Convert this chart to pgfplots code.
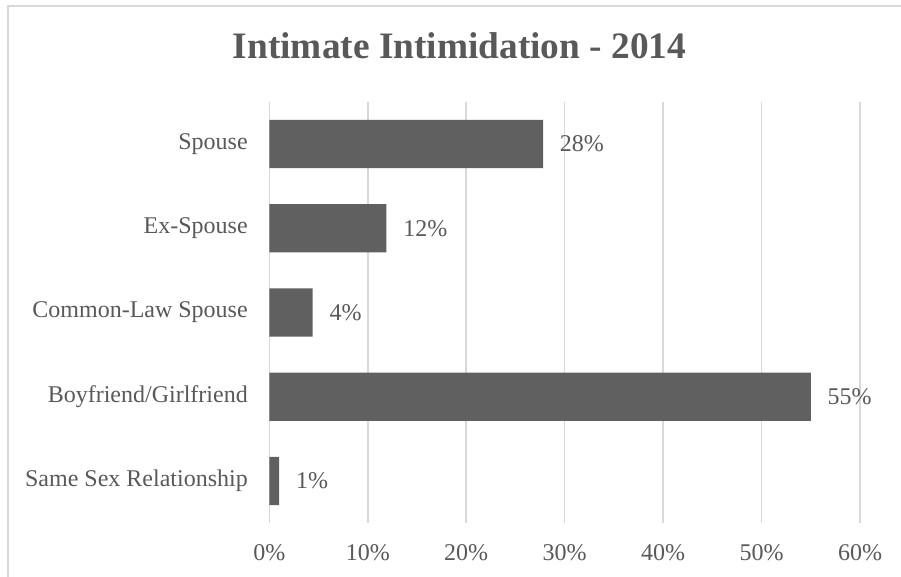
\documentclass[border=0pt]{standalone}
\usepackage{fontspec}
\setmainfont{Liberation Serif}
\usepackage{pgfplots}
\pgfplotsset{compat=1.18}
\definecolor{txtgray}{HTML}{595959}
\definecolor{bargray}{HTML}{606060}
\definecolor{gridgray}{HTML}{D9D9D9}
\begin{document}
\begin{tikzpicture}
\useasboundingbox (0,0) rectangle (675.75pt,432.75pt);
\fill[white] (0,0) rectangle (675.75pt,432.75pt);
\draw[gridgray, line width=1.1pt] (6pt,-5pt) -- (6pt,428.25pt) -- (680pt,428.25pt);
\begin{axis}[
  at={(202pt,40.5pt)}, anchor=south west,
  scale only axis, width=443pt, height=315.75pt,
  xbar, bar width=36.2pt,
  xmin=0, xmax=60, ymin=-0.5, ymax=4.5,
  xtick={0,10,...,60},
  xticklabels={0\%,10\%,20\%,30\%,40\%,50\%,60\%},
  ytick={0,...,4},
  yticklabels={Same Sex Relationship, Boyfriend/Girlfriend, Common-Law Spouse, Ex-Spouse, Spouse},
  xmajorgrids, grid style={gridgray, line width=1.1pt},
  axis line style={draw=none},
  major tick length=0pt,
  tick style={draw=none},
  tick label style={font=\fontsize{18}{21.6}\selectfont, text=txtgray},
  xticklabel style={anchor=north, inner sep=0pt, yshift=-15.75pt},
  yticklabel style={anchor=east, inner sep=0pt, xshift=-16pt},
  point meta=x,
  nodes near coords={\pgfmathprintnumber[fixed,precision=0,assume math mode=true]{\pgfplotspointmeta}\%},
  nodes near coords style={font=\fontsize{18}{21.6}\selectfont, text=txtgray, anchor=west, inner sep=0pt, xshift=12.5pt},
  clip=false,
]
\addplot[fill=bargray, draw=none] coordinates {(1.0,0) (55.0,1) (4.4,2) (11.9,3) (27.8,4)};
\end{axis}
\node[font=\bfseries\fontsize{28}{33}\selectfont, text=txtgray, anchor=base] at (344.6pt,388.5pt) {Intimate Intimidation - 2014};
\end{tikzpicture}
\end{document}
